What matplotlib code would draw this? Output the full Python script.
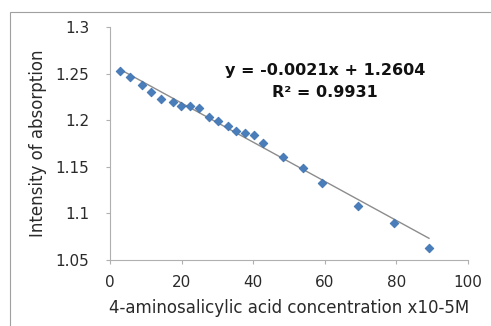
import matplotlib
matplotlib.use("Agg")
import matplotlib.pyplot as plt
from matplotlib.patches import Rectangle
import numpy as np

plt.rcParams['font.family'] = ['DejaVu Sans']

conc = [2.8, 5.6, 8.9, 11.4, 14.2, 17.5, 19.8, 22.3, 24.8, 27.6, 30.1,
        32.9, 35.1, 37.6, 40.1, 42.6, 48.2, 53.8, 59.1, 69.4, 79.4, 89.1]
absorb = [1.253, 1.246, 1.238, 1.230, 1.223, 1.220, 1.215, 1.215, 1.213,
          1.203, 1.199, 1.194, 1.188, 1.186, 1.184, 1.176, 1.161, 1.149,
          1.133, 1.108, 1.090, 1.063]
slope = -0.0021
intercept = 1.2604
r2 = 0.9931
xticks = [0, 20, 40, 60, 80, 100]
yticks = [1.05, 1.1, 1.15, 1.2, 1.25, 1.3]
ytick_labels = ['1.05', '1.1', '1.15', '1.2', '1.25', '1.3']

fig = plt.figure(figsize=(4.91, 3.26), dpi=100)
fig.patches.append(Rectangle((10/491, -0.1), 1.2, 1 - 12/326 + 0.1,
                             transform=fig.transFigure, fill=False,
                             edgecolor='#a0a0a0', linewidth=0.8))
ax = fig.add_axes([110/491, 1 - 260/326, (468 - 110)/491, (260 - 27)/326])

xl = np.array([min(conc), max(conc)])
ax.plot(xl, slope * xl + intercept, color='#8c8c8c', linewidth=1.0, zorder=2)
ax.scatter(conc, absorb, marker='D', s=20, color='#4a7ebb',
           edgecolors='#3a6fb0', linewidths=0.5, zorder=3)

ax.set_xlim(0, 100)
ax.set_ylim(1.05, 1.3)
ax.set_xticks(xticks)
ax.set_yticks(yticks)
ax.set_yticklabels(ytick_labels)
for s in ['top', 'right']:
    ax.spines[s].set_visible(False)
for s in ['left', 'bottom']:
    ax.spines[s].set_color('#b0b0b0')
    ax.spines[s].set_linewidth(0.8)
ax.tick_params(axis='both', colors='#b0b0b0', labelcolor='#2a2a2a',
               labelsize=11, length=3, width=0.8)
ax.tick_params(axis='y', pad=12)
ax.tick_params(axis='x', pad=8)

ax.set_xlabel('4-aminosalicylic acid concentration x10-5M', fontsize=12,
              color='#2a2a2a', labelpad=6)
ax.set_ylabel('Intensity of absorption', fontsize=12, color='#2a2a2a',
              labelpad=6)

ax.text(0.60, 0.815, f'y = {slope}x + {intercept}', transform=ax.transAxes,
        ha='center', va='center', fontsize=11.5, fontweight='bold', color='#111111')
ax.text(0.60, 0.717, f'R² = {r2}', transform=ax.transAxes,
        ha='center', va='center', fontsize=11.5, fontweight='bold', color='#111111')

fig.savefig('out.png', dpi=100)
